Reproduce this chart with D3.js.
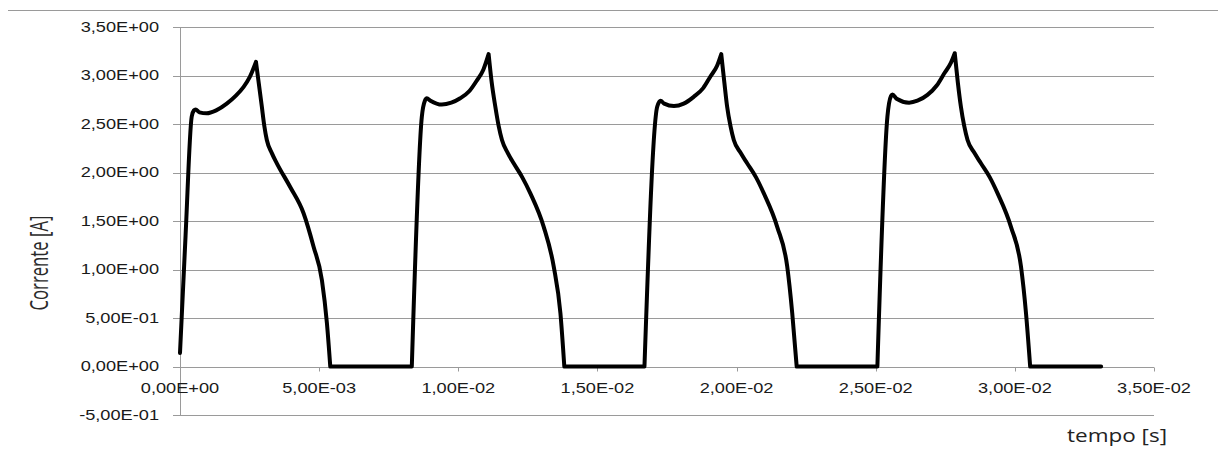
<!DOCTYPE html>
<html>
<head>
<meta charset="utf-8">
<script src="https://cdn.jsdelivr.net/npm/d3@7"></script>
<style>
  body { margin: 0; background: #fff; }
  svg { display: block; }
</style>
</head>
<body>
<div id="grafico"></div>
<script>
// dados : tempo [s] e corrente [A]
const tempo = [
  0, 0.20e-3, 0.42e-3, 0.50e-3, 0.56e-3, 0.70e-3, 0.96e-3, 1.30e-3, 1.68e-3, 2.00e-3, 2.28e-3, 2.50e-3, 2.73e-3,
  2.84e-3, 2.94e-3, 3.03e-3, 3.12e-3, 3.30e-3, 3.48e-3, 3.96e-3, 4.44e-3, 4.80e-3, 5.10e-3, 5.28e-3, 5.40e-3,
  8.33e-3, 8.69e-3, 8.80e-3, 8.87e-3, 9.00e-3, 9.41e-3, 9.75e-3, 10.07e-3, 10.40e-3, 10.67e-3, 10.90e-3, 11.09e-3,
  11.20e-3, 11.33e-3, 11.45e-3, 11.57e-3, 11.78e-3, 11.99e-3, 12.30e-3, 12.59e-3, 13.07e-3, 13.43e-3, 13.67e-3, 13.81e-3,
  16.69e-3, 17.15e-3, 17.27e-3, 17.40e-3, 17.75e-3, 18.10e-3, 18.46e-3, 18.80e-3, 19.06e-3, 19.30e-3, 19.45e-3,
  19.56e-3, 19.66e-3, 19.78e-3, 19.90e-3, 20.15e-3, 20.38e-3, 20.70e-3, 20.98e-3, 21.46e-3, 21.82e-3, 22.00e-3, 22.16e-3,
  25.06e-3, 25.42e-3, 25.55e-3, 25.60e-3, 25.75e-3, 26.20e-3, 26.50e-3, 26.86e-3, 27.20e-3, 27.46e-3, 27.70e-3, 27.84e-3,
  27.95e-3, 28.06e-3, 28.18e-3, 28.30e-3, 28.55e-3, 28.78e-3, 29.10e-3, 29.38e-3, 29.86e-3, 30.22e-3, 30.40e-3, 30.55e-3,
  33.10e-3
];
const corrente = [
  0.14, 1.35, 2.575, 2.64, 2.65, 2.62, 2.61, 2.64, 2.71, 2.79, 2.88, 2.98, 3.14,
  2.90, 2.68, 2.48, 2.335, 2.20, 2.095, 1.85, 1.58, 1.235, 0.89, 0.445, 0,
  0, 2.575, 2.74, 2.765, 2.74, 2.70, 2.72, 2.765, 2.84, 2.95, 3.06, 3.22,
  2.93, 2.68, 2.48, 2.335, 2.20, 2.095, 1.95, 1.785, 1.44, 1.03, 0.55, 0,
  0, 2.68, 2.74, 2.71, 2.685, 2.71, 2.78, 2.87, 2.99, 3.10, 3.22,
  2.93, 2.68, 2.48, 2.335, 2.20, 2.095, 1.95, 1.785, 1.44, 1.03, 0.55, 0,
  0, 2.575, 2.79, 2.805, 2.76, 2.72, 2.74, 2.80, 2.90, 3.02, 3.13, 3.23,
  2.93, 2.68, 2.48, 2.335, 2.20, 2.095, 1.95, 1.785, 1.44, 1.03, 0.55, 0,
  0
];
const ticksX = [0, 5e-3, 10e-3, 15e-3, 20e-3, 25e-3, 30e-3, 35e-3];
const ticksY = [-0.5, 0, 0.5, 1, 1.5, 2, 2.5, 3, 3.5];
const rotuloX = ["0,00E+00","5,00E-03","1,00E-02","1,50E-02","2,00E-02","2,50E-02","3,00E-02","3,50E-02"];
const rotuloY = ["-5,00E-01","0,00E+00","5,00E-01","1,00E+00","1,50E+00","2,00E+00","2,50E+00","3,00E+00","3,50E+00"];

const W = 1218, H = 466;
const ESQ = 180, DIR = 1154, TOPO = 27, BASE = 415;
const ESTICA = 1.3; // o texto do original esta esticado na horizontal

const svg = d3.select("#grafico").append("svg").attr("width", W).attr("height", H);

const x = d3.scaleLinear().domain([0, 0.035]).range([ESQ, DIR]);
const y = d3.scaleLinear().domain([-0.5, 3.5]).range([BASE, TOPO]);

// linha cinza no topo
svg.append("line").attr("x1", 8).attr("x2", W).attr("y1", 10.5).attr("y2", 10.5)
   .attr("stroke", "#9a9a9a").attr("stroke-width", 1);

// grelha horizontal (com pequeno tick a esquerda)
svg.append("g").selectAll("line").data(ticksY).join("line")
   .attr("x1", ESQ - 7).attr("x2", DIR)
   .attr("y1", d => Math.round(y(d)) + 0.5).attr("y2", d => Math.round(y(d)) + 0.5)
   .attr("stroke", "#9a9a9a").attr("stroke-width", 1);

// eixo vertical
svg.append("line").attr("x1", ESQ + 0.5).attr("x2", ESQ + 0.5).attr("y1", TOPO).attr("y2", BASE)
   .attr("stroke", "#9a9a9a").attr("stroke-width", 1);

// ticks do eixo x (na linha do zero)
const y0 = Math.round(y(0)) + 0.5;
svg.append("g").selectAll("line").data(ticksX).join("line")
   .attr("x1", d => Math.round(x(d)) + 0.5).attr("x2", d => Math.round(x(d)) + 0.5)
   .attr("y1", y0).attr("y2", y0 + 4)
   .attr("stroke", "#9a9a9a").attr("stroke-width", 1);

// rotulos do eixo y
svg.append("g").selectAll("text").data(ticksY).join("text")
   .attr("transform", d => `translate(159,${y(d)}) scale(${ESTICA},1)`)
   .attr("text-anchor", "end").attr("dy", "0.35em")
   .attr("font-family", "Liberation Sans, Arial, sans-serif").attr("font-size", 14)
   .attr("fill", "#1a1a1a")
   .text((d, i) => rotuloY[i]);

// rotulos do eixo x
svg.append("g").selectAll("text").data(ticksX).join("text")
   .attr("transform", d => `translate(${x(d)},${y(0) + 22}) scale(${ESTICA},1)`)
   .attr("text-anchor", "middle").attr("dy", "0.35em")
   .attr("font-family", "Liberation Sans, Arial, sans-serif").attr("font-size", 14)
   .attr("fill", "#1a1a1a")
   .text((d, i) => rotuloX[i]);

// curva da corrente : partida nos picos e nos cantos do zero
// (assim os picos ficam agudos e o resto fica suave)
const pontos = tempo.map((t, i) => [t, corrente[i]]);
const cortes = [0];
for (let i = 1; i < pontos.length - 1; i++) {
   const v = corrente[i];
   const pico = v > 3 && v > corrente[i - 1] && v > corrente[i + 1];
   if (pico || v === 0) cortes.push(i);
}
cortes.push(pontos.length - 1);
const trechos = [];
for (let k = 0; k < cortes.length - 1; k++) {
   trechos.push(pontos.slice(cortes[k], cortes[k + 1] + 1));
}
const linha = d3.line().curve(d3.curveMonotoneX).x(d => x(d[0])).y(d => y(d[1]));
svg.append("path")
   .attr("d", trechos.map(t => linha(t)).join(""))
   .attr("fill", "none").attr("stroke", "#000").attr("stroke-width", 4)
   .attr("stroke-linejoin", "round").attr("stroke-linecap", "round");

// titulos dos eixos
svg.append("text")
   .attr("transform", `translate(48,263) rotate(-90) scale(1,${ESTICA})`)
   .attr("text-anchor", "middle")
   .attr("font-family", "Open Sans, sans-serif").attr("font-size", 19)
   .attr("fill", "#2a2a2a")
   .attr("textLength", 95).attr("lengthAdjust", "spacingAndGlyphs")
   .text("Corrente [A]");

svg.append("text")
   .attr("x", 1067).attr("y", 442)
   .attr("font-family", "Open Sans, sans-serif").attr("font-size", 19)
   .attr("fill", "#222")
   .attr("textLength", 100).attr("lengthAdjust", "spacingAndGlyphs")
   .text("tempo [s]");
</script>
</body>
</html>
